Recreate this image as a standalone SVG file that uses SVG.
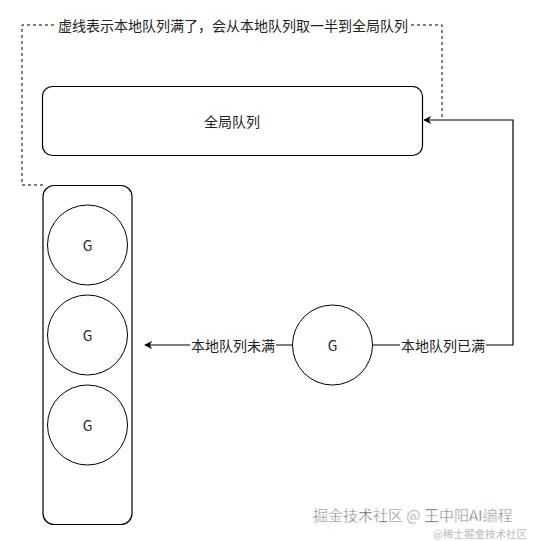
<svg xmlns="http://www.w3.org/2000/svg" width="536" height="541" viewBox="0 0 536 541">
<style>
.box{fill:#fff;stroke:#000;stroke-width:1.2}
.c{fill:#fff;stroke:#000;stroke-width:1}
.t{font-family:"Microsoft YaHei","Noto Sans CJK SC","Liberation Sans",sans-serif;font-size:14px;fill:#222;text-anchor:middle;dominant-baseline:central}
.ln{fill:none;stroke:#000;stroke-width:1.2}
.dash{fill:none;stroke:#000;stroke-width:1;stroke-dasharray:3 3}
.lb{fill:#fff}
</style>
<defs>
<marker id="arr" viewBox="0 0 10 10" refX="9" refY="5" markerWidth="8" markerHeight="8" markerUnits="userSpaceOnUse" orient="auto">
<path d="M0,0 L10,5 L0,10 L3,5 z" fill="#000"/>
</marker>
</defs>
<rect width="536" height="541" fill="#fff"/>
<g id="connectors">
<path class="dash" d="M43,185 H22 V25 H442 V120"/>
<rect class="lb" x="57" y="15" width="352" height="20"/>
<text class="t" x="233" y="25">虚线表示本地队列满了，会从本地队列取一半到全局队列</text>
<path class="ln" d="M373,345 H513 V120 H424" marker-end="url(#arr)"/>
<rect class="lb" x="400" y="336" width="86" height="18"/>
<text class="t" x="443" y="345">本地队列已满</text>
<path class="ln" d="M292,345 H145" marker-end="url(#arr)"/>
<rect class="lb" x="190" y="336" width="86" height="18"/>
<text class="t" x="233" y="345">本地队列未满</text>
</g>
<g id="global-queue">
<rect class="box" x="42.5" y="86.5" width="380" height="69" rx="10"/>
<text class="t" x="232" y="121">全局队列</text>
</g>
<g id="local-queue">
<rect class="box" x="43" y="185.5" width="89" height="339" rx="11"/>
</g>
<g id="g1"><circle class="c" cx="87.5" cy="245" r="40"/><text class="t" x="87.5" y="245">G</text></g>
<g id="g2"><circle class="c" cx="87.5" cy="335" r="40"/><text class="t" x="87.5" y="335">G</text></g>
<g id="g3"><circle class="c" cx="87.5" cy="425" r="40"/><text class="t" x="87.5" y="425">G</text></g>
<g id="g-new"><circle class="c" cx="332.5" cy="345" r="40"/><text class="t" x="332.5" y="345">G</text></g>
<g id="watermark">
<text x="313" y="521" font-family="'Noto Sans CJK SC','Liberation Sans',sans-serif" font-size="15" fill="#555" stroke="#fff" stroke-width="0.5">掘金技术社区 @ 王中阳AI编程</text>
<text x="433" y="538" font-family="'Noto Sans CJK SC','Liberation Serif',serif" font-size="10.5" fill="#bbb">@稀土掘金技术社区</text>
</g>
</svg>
